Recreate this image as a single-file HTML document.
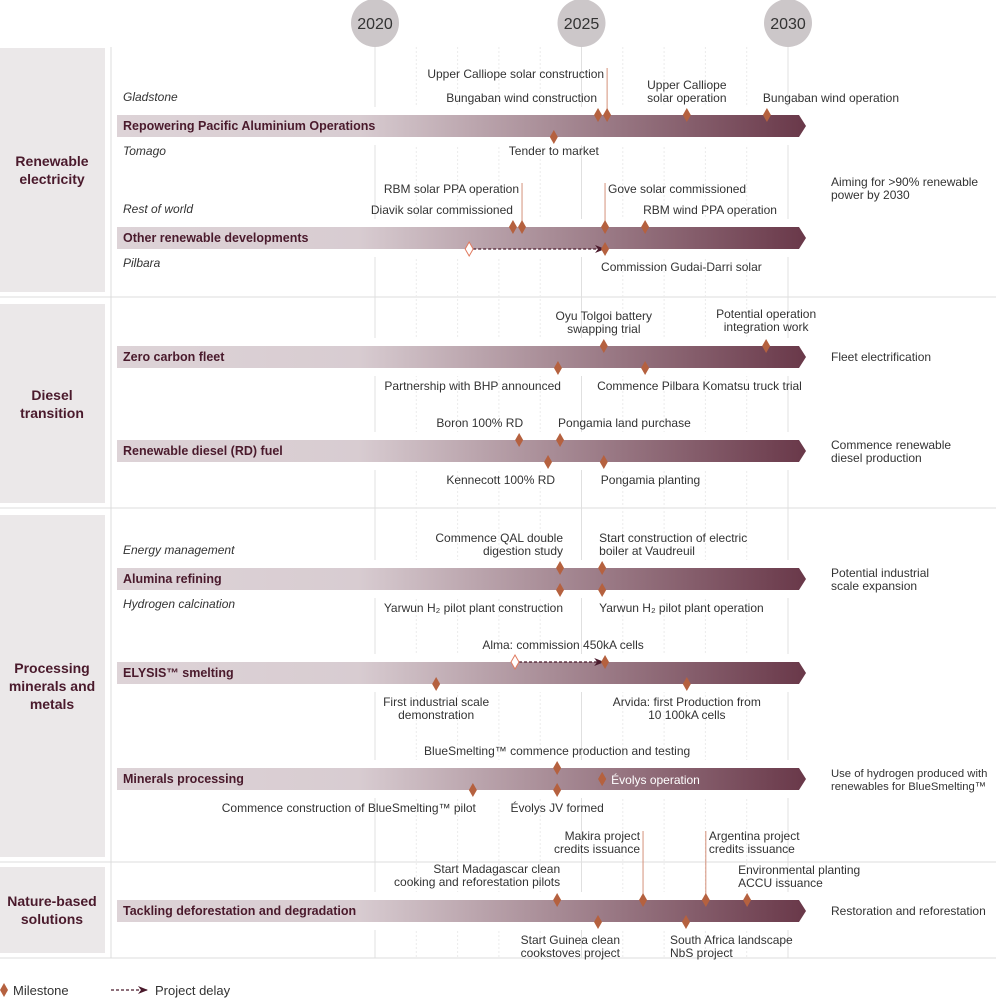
<!DOCTYPE html>
<html><head><meta charset="utf-8">
<style>
html,body{margin:0;padding:0;background:#fff;}
svg{display:block;font-family:"Liberation Sans",sans-serif;}
</style></head>
<body>
<svg id="chart" width="996" height="1003" viewBox="0 0 996 1003">
<defs>
<linearGradient id="barGrad" x1="117" x2="806" y1="0" y2="0" gradientUnits="userSpaceOnUse">
<stop offset="0" stop-color="#ddd3d7"/>
<stop offset="0.35" stop-color="#d8ccd1"/>
<stop offset="1" stop-color="#693849"/>
</linearGradient>
<marker id="arrowHead" markerWidth="10" markerHeight="8" refX="9" refY="4" orient="auto" markerUnits="userSpaceOnUse">
<path d="M0,0 L10,4 L0,8 L3,4 Z" fill="#4a1a2c"/>
</marker>
</defs>
<g id="layer-bg"></g>
<g id="layer-grid"></g>
<g id="layer-bars"></g>
<g id="layer-marks"></g>
<g id="layer-text"></g>
</svg>
<script>
// ---- data ----
const yearTicks = [2020, 2025, 2030];
const minorYears = [2021, 2022, 2023, 2024, 2026, 2027, 2028, 2029];
const sectionNames = [["Renewable","electricity"],["Diesel","transition"],["Processing","minerals and","metals"],["Nature-based","solutions"]];
const barNames = ["Repowering Pacific Aluminium Operations","Other renewable developments","Zero carbon fleet","Renewable diesel (RD) fuel","Alumina refining","ELYSIS™ smelting","Minerals processing","Tackling deforestation and degradation"];
const outcomeTexts = [[],["Aiming for >90% renewable","power by 2030"],["Fleet electrification"],["Commence renewable","diesel production"],["Potential industrial","scale expansion"],[],["Use of hydrogen produced with","renewables for BlueSmelting™"],["Restoration and reforestation"]];
const milestoneRow = [0,0,0,0,0, 1,1,1,1,1, 2,2,2,2, 3,3,3,3, 4,4,4,4, 5,5,5, 6,6,6,6,6, 7,7,7,7,7,7];
const milestoneYear = [2025.40,2025.62,2027.55,2029.49,2024.33, 2023.34,2023.56,2025.57,2026.54,2025.57, 2025.54,2029.47,2024.43,2026.54, 2023.49,2024.48,2024.19,2025.54, 2024.48,2025.50,2024.48,2025.50, 2025.57,2021.48,2027.55, 2024.41,2025.50,2022.37,2024.41,2025.50, 2024.41,2026.49,2028.01,2029.01,2025.40,2027.53];
const milestoneSide = ["t","t","t","t","b", "t","t","t","t","b", "t","t","b","b", "t","t","b","b", "t","t","b","b", "t","b","b", "t","in","b","b","in", "t","t","t","t","b","b"];
const milestoneLabel = [["Bungaban wind construction"],["Upper Calliope solar construction"],["Upper Calliope","solar operation"],["Bungaban wind operation"],["Tender to market"],
 ["Diavik solar commissioned"],["RBM solar PPA operation"],["Gove solar commissioned"],["RBM wind PPA operation"],["Commission Gudai-Darri solar"],
 ["Oyu Tolgoi battery","swapping trial"],["Potential operation","integration work"],["Partnership with BHP announced"],["Commence Pilbara Komatsu truck trial"],
 ["Boron 100% RD"],["Pongamia land purchase"],["Kennecott 100% RD"],["Pongamia planting"],
 ["Commence QAL double","digestion study"],["Start construction of electric","boiler at Vaudreuil"],["Yarwun H₂ pilot plant construction"],["Yarwun H₂ pilot plant operation"],
 ["Alma: commission 450kA cells"],["First industrial scale","demonstration"],["Arvida: first Production from","10 100kA cells"],
 ["BlueSmelting™ commence production and testing"],["Évolys operation"],["Commence construction of BlueSmelting™ pilot"],["Évolys JV formed"],[],
 ["Start Madagascar clean","cooking and reforestation pilots"],["Makira project","credits issuance"],["Argentina project","credits issuance"],["Environmental planting","ACCU issuance"],["Start Guinea clean","cookstoves project"],["South Africa landscape","NbS project"]];
const delayFrom = [2022.28, 2023.39];
const delayTo = [2025.57, 2025.55];
const delayRow = [1, 5];
const subLabels = [["Gladstone",0,"t"],["Tomago",0,"b"],["Rest of world",1,"t"],["Pilbara",1,"b"],["Energy management",4,"t"],["Hydrogen calcination",4,"b"]];

// ---- layout (not data) ----
const barCenters = [126,238,357,451,579,673,779,911];
const outcomeTopY = [0,182,357,445,573,0,773,911];
const sectionBoxes = [[48,292],[304,503],[515,857],[867,953]];
const sectionSeps = [297,508,862,958];
const sectionLabelY = [161,395,668,901];
const labLayout = [["end",-1,98],["end",-3,74,68],["middle",0,85],["start",-4,98],["middle",0,151],
 ["end",0,210],["end",-3,189,183],["start",3,189,183],["start",-2,210],["start",-4,267],
 ["middle",0,316],["middle",0,314],["end",3,386],["start",-48,386],
 ["end",4,423],["start",-2,423],["end",7,480],["start",-3,480],
 ["end",3,538],["start",-3,538],["end",3,608],["start",-3,608],
 ["middle",-42,645],["middle",0,702],["middle",0,702],
 ["middle",0,751],["start",9,780],["end",3,808],["middle",0,808],["start",0,0],
 ["end",3,869],["end",-3,836,831],["start",3,836,831],["start",-9,870],["end",22,940],["start",-16,940]];

const X = y => 375 + (y - 2020) * 41.3;
const NS = "http://www.w3.org/2000/svg";
function mk(tag, attrs, parent, txt){const e=document.createElementNS(NS,tag);for(const k in attrs)e.setAttribute(k,attrs[k]);if(txt!==undefined)e.textContent=txt;parent.appendChild(e);return e;}
const gBg=document.getElementById('layer-bg'),gGrid=document.getElementById('layer-grid'),gBars=document.getElementById('layer-bars'),gMarks=document.getElementById('layer-marks'),gText=document.getElementById('layer-text');

sectionBoxes.forEach((b,i)=>{
  const r=mk('rect',{x:0,y:b[0],width:105,height:b[1]-b[0],fill:'#ebe8e9'},gBg);
  
  
  const lines=sectionNames[i];const lh=18;const y0=sectionLabelY[i];
  const t=mk('text',{x:52,y:y0,'text-anchor':'middle','font-size':14,'font-weight':'bold',fill:'#4a1a2c'},gText);
  
  
  lines.forEach((l,j)=>mk('tspan',{x:52,y:y0+j*lh+5},t,l));
});
sectionSeps.forEach(y=>{
  const l=mk('line',{x1:0,x2:996,y1:y,y2:y,stroke:'#dcdcdc','stroke-width':1},gBg);
  
  
});
const vl=mk('line',{x1:111,x2:111,y1:47,y2:958,stroke:'#dcdcdc'},gBg);



minorYears.forEach(y=>{
  const l=mk('line',{x1:X(y),x2:X(y),y1:47,y2:958,stroke:'#ebebeb','stroke-dasharray':'2,2'},gGrid);
  
  
});
yearTicks.forEach(y=>{
  const l=mk('line',{x1:X(y),x2:X(y),y1:40,y2:958,stroke:'#e0e0e0'},gGrid);
  
  
  const c=mk('circle',{cx:X(y),cy:23,r:24,fill:'#ccc7c9'},gGrid);
  
  
  const t=mk('text',{x:X(y),y:29,'text-anchor':'middle','font-size':16,fill:'#333'},gText,String(y));
  
  
});

barNames.forEach((n,i)=>{
  const c=barCenters[i];
  mk('rect',{x:112,y:c-19,width:700,height:38,fill:'#fff'},gBars);
  const p=mk('polygon',{points:`117,${c-11} 799,${c-11} 806,${c} 799,${c+11} 117,${c+11}`,fill:'url(#barGrad)'},gBars);
  
  
  const t=mk('text',{x:123,y:c+4,'font-size':12.5,'font-weight':'bold',fill:'#4a1a2c'},gText,n);
  
  
  const o=outcomeTexts[i];
  o.forEach((l,j)=>{
    const y0 = o.length>1 ? outcomeTopY[i] : outcomeTopY[i];
    const ot=mk('text',{x:831,y:y0+4+j*13,'font-size':o.length>1&&i===6?11.3:12,fill:'#333'},gText,l);
    
    
  });
});
subLabels.forEach(s=>{
  const c=barCenters[s[1]];
  const t=mk('text',{x:123,y:s[2]==='t'?c-25:c+29,'font-size':12,'font-style':'italic',fill:'#333'},gText,s[0]);
  
  
});

function diamond(x,y,hollow,parent){
  return mk('polygon',{points:`${x},${y-7} ${x+4},${y} ${x},${y+7} ${x-4},${y}`,fill:hollow?'#fff':'#b5613f',stroke:hollow?'#e07a5f':'none','stroke-width':1},parent);
}
delayFrom.forEach((f,i)=>{
  const c=barCenters[delayRow[i]];const y=delayRow[i]===1?c+11:c-11;
  const l=mk('line',{x1:X(f)+4,x2:X(delayTo[i])-1,y1:y,y2:y,stroke:'#4a1a2c','stroke-width':1.2,'stroke-dasharray':'3,2','marker-end':'url(#arrowHead)'},gMarks);
  
  
  const d=diamond(X(f),y,true,gMarks);
  
  
});
milestoneYear.forEach((yr,i)=>{
  const c=barCenters[milestoneRow[i]];const s=milestoneSide[i];const x=X(yr);
  const y=s==='t'?c-11:(s==='b'?c+11:c);
  const L=labLayout[i];
  if(L[3]){
    const ll=mk('line',{x1:x,x2:x,y1:L[3],y2:y,stroke:'#d4917a','stroke-width':1},gMarks);
    
    
  }
  const d=diamond(x,y,false,gMarks);
  
  
  const lab=milestoneLabel[i];
  if(lab.length){
    const t=mk('text',{'text-anchor':L[0],'font-size':12,fill:s==='in'?'#fff':'#333'},gText);
    
    
    lab.forEach((l,j)=>mk('tspan',{x:x+L[1],y:L[2]+4+j*13},t,l));
  }
});

const ld=diamond(4,990,false,gText);


const lt=mk('text',{x:13,y:995,'font-size':13,fill:'#333'},gText,'Milestone');


const la=mk('line',{x1:111,x2:147,y1:990,y2:990,stroke:'#4a1a2c','stroke-width':1.2,'stroke-dasharray':'3,2','marker-end':'url(#arrowHead)'},gText);


const lt2=mk('text',{x:155,y:995,'font-size':13,fill:'#333'},gText,'Project delay');


</script>
</body></html>
